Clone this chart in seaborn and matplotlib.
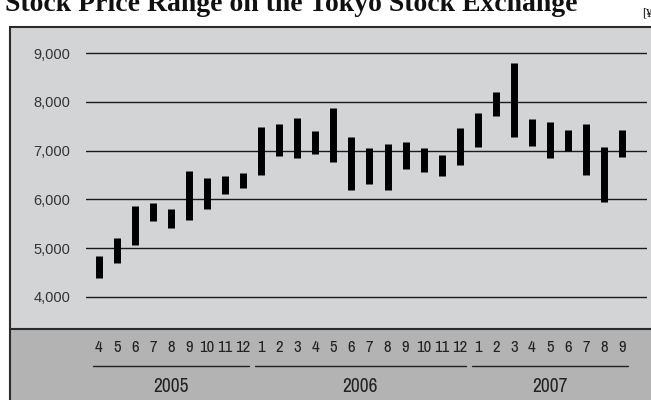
import numpy as np
import pandas as pd
import matplotlib
matplotlib.use('Agg')
import matplotlib.pyplot as plt
import matplotlib.transforms as mtransforms
from matplotlib import font_manager
from matplotlib.patches import Rectangle
import seaborn as sns

# monthly price range, Apr 2005 - Sep 2007 (yen)
months = [4, 5, 6, 7, 8, 9, 10, 11, 12,
          1, 2, 3, 4, 5, 6, 7, 8, 9, 10, 11, 12,
          1, 2, 3, 4, 5, 6, 7, 8, 9]
years = [2005] * 9 + [2006] * 12 + [2007] * 9
high = [4840, 5200, 5860, 5930, 5800, 6580, 6440, 6480, 6540,
        7490, 7550, 7670, 7410, 7880, 7280, 7060, 7140, 7180, 7060, 6910, 7470,
        7780, 8210, 8800, 7650, 7590, 7430, 7550, 7080, 7430]
low = [4390, 4700, 5060, 5560, 5420, 5580, 5800, 6100, 6230,
       6500, 6890, 6850, 6930, 6770, 6190, 6320, 6190, 6620, 6560, 6480, 6700,
       7080, 7710, 7280, 7100, 6850, 6990, 6500, 5950, 6870]
yticks = [4000, 5000, 6000, 7000, 8000, 9000]

sns.set_style('white')
plt.rcParams['font.family'] = ['Liberation Sans', 'DejaVu Sans']

# use a condensed sans for the month/year labels if one is installed
names = sorted({f.name for f in font_manager.fontManager.ttflist})
cond = [n for n in names if ('Narrow' in n or 'Condensed' in n) and 'Serif' not in n and 'Mono' not in n]
narrow = cond[:1] + ['Liberation Sans']

idx = np.arange(len(months))
df = pd.DataFrame({'idx': np.concatenate([idx, idx]),
                   'price': low + high})

W, H = 651, 400
fig = plt.figure(figsize=(W / 100, H / 100), dpi=100)

# outer panel (behind the axes)
top_y, sep_y, left_x = 27, 329, 10
fig.add_artist(Rectangle((left_x / W, (H - sep_y) / H), 1, (sep_y - top_y) / H,
                         transform=fig.transFigure, facecolor='#d3d4d6', edgecolor='none',
                         zorder=-3))
fig.add_artist(Rectangle((left_x / W, -0.01), 1, (H - sep_y) / H + 0.01,
                         transform=fig.transFigure, facecolor='#b3b3b3', edgecolor='none',
                         zorder=-3))
fig.add_artist(Rectangle((left_x / W, -0.01), 1, (H - top_y) / H + 0.01,
                         transform=fig.transFigure, facecolor='none', edgecolor='#2a2a2a',
                         lw=1.5, zorder=-2))
fig.add_artist(plt.Line2D([left_x / W, 1], [(H - sep_y) / H] * 2,
                          transform=fig.transFigure, color='#2a2a2a', lw=1.5, zorder=-2))

ax = fig.add_axes([86 / W, (H - sep_y) / H, (647 - 86) / W, (sep_y - top_y) / H])
ax.set_facecolor('none')

sns.lineplot(data=df, x='idx', y='price', units='idx', estimator=None, sort=False,
             color='black', lw=5.0, solid_capstyle='butt', legend=False, ax=ax)

ax.set_xlim(-0.72, 30.39)
ax.set_ylim(3337, 9540)
ax.set_yticks(yticks)
ax.set_yticklabels([f'{v:,}' for v in yticks], fontsize=10.5, color='#333333')
ax.set_xticks(idx)
ax.set_xticklabels([str(m) for m in months], family=narrow, fontsize=12, color='#222222')
ax.tick_params(axis='y', length=0, pad=11.5)
ax.tick_params(axis='x', length=0, pad=8)
ax.yaxis.grid(True, color='#1a1a1a', lw=1.0)
ax.xaxis.grid(False)
ax.set_axisbelow(True)
for s in ax.spines.values():
    s.set_visible(False)
ax.set_xlabel('')
ax.set_ylabel('')

# year brackets under the month labels
trans = mtransforms.blended_transform_factory(ax.transData, ax.transAxes)
for yr in sorted(set(years)):
    pos = [i for i, y in enumerate(years) if y == yr]
    ax.plot([pos[0] - 0.33, pos[-1] + 0.33], [-0.1225, -0.1225], transform=trans,
            color='#222222', lw=1.0, clip_on=False)
    ax.text((pos[0] + pos[-1]) / 2, -0.192, str(yr), transform=trans, ha='center',
            va='center', family=narrow, fontsize=14, color='#222222')

fig.text(5 / W, 1 - 11 / H, 'Stock Price Range on the Tokyo Stock Exchange',
         family=['Liberation Serif', 'DejaVu Serif'], fontweight='bold', fontsize=20,
         ha='left', va='baseline', color='#111111')
fig.text(642 / W, 1 - 17 / H, '[\u00a5]', family=['Liberation Serif', 'DejaVu Serif'],
         fontsize=9, ha='left', va='baseline', color='#111111')

fig.savefig('out.png', dpi=100)
